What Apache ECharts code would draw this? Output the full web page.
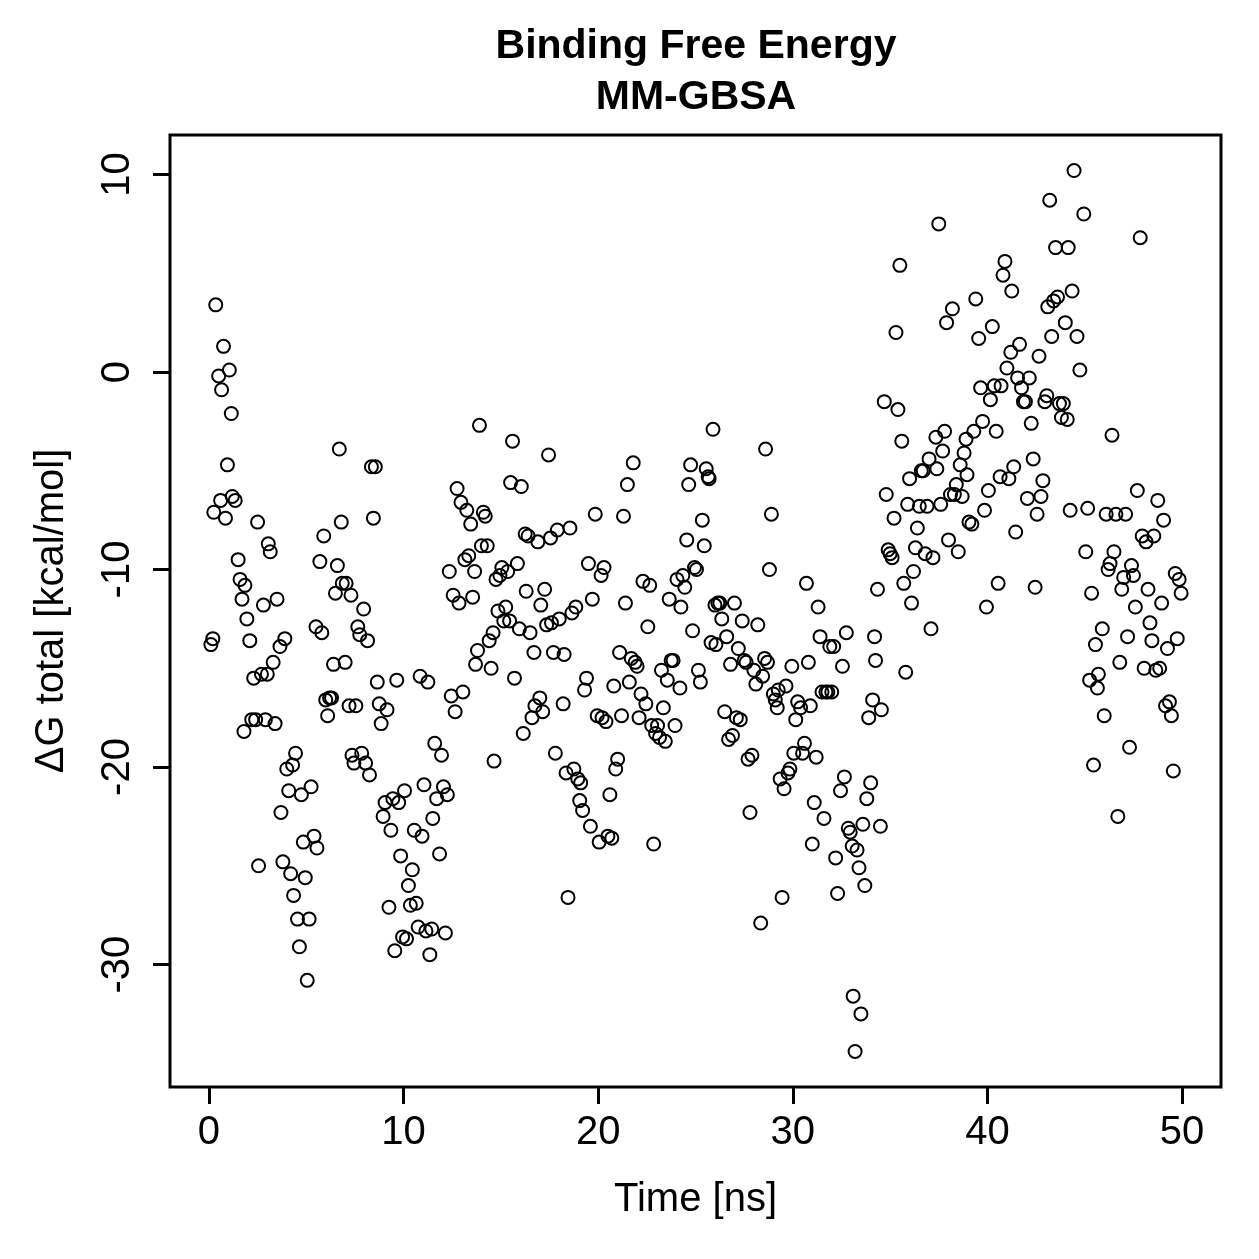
<!DOCTYPE html>
<html>
<head>
<meta charset="utf-8">
<script src="https://cdn.jsdelivr.net/npm/echarts@6/dist/echarts.min.js"></script>
<style>
  html, body { margin: 0; padding: 0; background: #fff; }
  #chart_div { width: 1259px; height: 1259px; }
</style>
</head>
<body>
<div id="chart_div"></div>
<script>
// time [ns]
var times = [
  0.1, 0.2, 0.25, 0.35, 0.5, 0.6, 0.65, 0.75, 0.85, 0.95, 1.05, 1.15, 1.2, 1.35, 1.5, 1.6, 1.7, 1.8, 1.85, 1.95,
  2.1, 2.2, 2.3, 2.4, 2.5, 2.55, 2.7, 2.8, 2.9, 3.0, 3.05, 3.15, 3.3, 3.4, 3.5, 3.65, 3.7, 3.8, 3.9, 4.0,
  4.1, 4.2, 4.3, 4.35, 4.45, 4.55, 4.65, 4.75, 4.85, 4.95, 5.05, 5.15, 5.25, 5.4, 5.5, 5.55, 5.7, 5.8, 5.9, 6.0,
  6.1, 6.2, 6.3, 6.4, 6.5, 6.6, 6.7, 6.8, 6.85, 7.0, 7.05, 7.2, 7.3, 7.35, 7.45, 7.55, 7.65, 7.75, 7.85, 7.95,
  8.05, 8.15, 8.25, 8.35, 8.45, 8.55, 8.65, 8.75, 8.85, 8.95, 9.05, 9.15, 9.25, 9.35, 9.45, 9.55, 9.65, 9.75, 9.85, 9.95,
  10.05, 10.15, 10.25, 10.35, 10.45, 10.55, 10.65, 10.75, 10.85, 10.95, 11.05, 11.15, 11.25, 11.35, 11.45, 11.5, 11.6, 11.7, 11.85, 11.95,
  12.05, 12.15, 12.25, 12.35, 12.45, 12.55, 12.65, 12.75, 12.85, 12.95, 13.05, 13.15, 13.25, 13.35, 13.45, 13.55, 13.65, 13.7, 13.8, 13.9,
  14.0, 14.1, 14.2, 14.3, 14.4, 14.5, 14.6, 14.65, 14.75, 14.85, 14.95, 15.05, 15.15, 15.25, 15.35, 15.45, 15.5, 15.6, 15.7, 15.85,
  15.95, 16.05, 16.15, 16.25, 16.3, 16.4, 16.5, 16.6, 16.7, 16.75, 16.9, 17.0, 17.05, 17.15, 17.25, 17.35, 17.45, 17.55, 17.6, 17.7,
  17.8, 17.9, 18.0, 18.2, 18.25, 18.35, 18.45, 18.55, 18.65, 18.75, 18.85, 18.95, 19.05, 19.1, 19.2, 19.3, 19.4, 19.5, 19.6, 19.7,
  19.85, 19.95, 20.05, 20.15, 20.2, 20.3, 20.4, 20.5, 20.6, 20.7, 20.8, 20.9, 21.0, 21.1, 21.2, 21.3, 21.4, 21.5, 21.6, 21.7,
  21.8, 21.9, 22.0, 22.1, 22.2, 22.3, 22.45, 22.55, 22.65, 22.75, 22.85, 22.95, 23.05, 23.15, 23.25, 23.35, 23.45, 23.55, 23.65, 23.75,
  23.85, 23.95, 24.05, 24.2, 24.25, 24.35, 24.45, 24.55, 24.65, 24.75, 24.85, 24.95, 25.05, 25.15, 25.25, 25.35, 25.45, 25.55, 25.65, 25.7,
  25.8, 25.9, 26.0, 26.05, 26.15, 26.25, 26.35, 26.5, 26.6, 26.7, 26.8, 26.9, 27.0, 27.1, 27.2, 27.3, 27.4, 27.5, 27.6, 27.7,
  27.8, 27.9, 28.0, 28.1, 28.2, 28.35, 28.45, 28.55, 28.6, 28.7, 28.8, 28.9, 29.0, 29.1, 29.2, 29.25, 29.35, 29.45, 29.55, 29.65,
  29.75, 29.85, 29.95, 30.05, 30.15, 30.25, 30.4, 30.5, 30.6, 30.7, 30.8, 30.9, 31.0, 31.1, 31.2, 31.3, 31.4, 31.5, 31.6, 31.7,
  31.8, 31.9, 32.0, 32.1, 32.2, 32.3, 32.45, 32.55, 32.65, 32.75, 32.85, 32.95, 33.05, 33.1, 33.2, 33.3, 33.4, 33.5, 33.6, 33.7,
  33.8, 33.9, 34.0, 34.1, 34.2, 34.25, 34.35, 34.5, 34.55, 34.7, 34.8, 34.9, 35.0, 35.1, 35.2, 35.3, 35.4, 35.5, 35.6, 35.7,
  35.8, 35.9, 36.0, 36.1, 36.2, 36.3, 36.4, 36.5, 36.6, 36.7, 36.8, 36.9, 37.0, 37.1, 37.2, 37.35, 37.4, 37.5, 37.6, 37.7,
  37.8, 37.9, 38.0, 38.1, 38.2, 38.3, 38.4, 38.5, 38.6, 38.7, 38.8, 38.9, 38.95, 39.05, 39.2, 39.3, 39.4, 39.55, 39.65, 39.75,
  39.85, 39.95, 40.05, 40.15, 40.25, 40.35, 40.45, 40.55, 40.65, 40.7, 40.8, 40.9, 41.0, 41.1, 41.2, 41.25, 41.35, 41.45, 41.55, 41.65,
  41.75, 41.85, 41.95, 42.05, 42.15, 42.25, 42.35, 42.45, 42.55, 42.65, 42.75, 42.85, 42.95, 43.05, 43.1, 43.2, 43.3, 43.4, 43.5, 43.6,
  43.7, 43.8, 43.9, 44.0, 44.1, 44.15, 44.25, 44.35, 44.45, 44.6, 44.75, 44.95, 45.05, 45.15, 45.25, 45.35, 45.45, 45.55, 45.65, 45.7,
  45.9, 46.0, 46.1, 46.2, 46.3, 46.4, 46.5, 46.6, 46.7, 46.8, 46.9, 47.0, 47.1, 47.2, 47.3, 47.4, 47.5, 47.6, 47.7, 47.85,
  47.95, 48.05, 48.15, 48.25, 48.35, 48.45, 48.55, 48.65, 48.75, 48.85, 48.95, 49.05, 49.15, 49.25, 49.35, 49.45, 49.55, 49.65, 49.75, 49.85,
  49.95
];

// dG total [kcal/mol], same order as times
var dG = [
  -13.8, -13.5, -7.1, 3.4, -0.2, -6.5, -0.9, 1.3, -7.4, -4.7, 0.1, -2.1, -6.3, -6.5, -9.5, -10.5, -11.5, -18.2, -10.8, -12.5,
  -13.6, -17.6, -15.5, -17.6, -7.6, -25.0, -15.3, -11.8, -17.6, -15.3, -8.7, -9.1, -14.7, -17.8, -11.5, -13.9, -22.3, -24.8, -13.5, -20.1,
  -21.2, -25.4, -19.9, -26.5, -19.3, -27.7, -29.1, -21.4, -23.8, -25.6, -30.8, -27.7, -21.0, -23.5, -12.9, -24.1, -9.6, -13.2, -8.3, -16.6,
  -17.4, -16.5, -16.5, -14.8, -11.2, -9.8, -3.9, -7.6, -10.7, -14.7, -10.7, -16.9, -11.3, -19.4, -19.8, -16.9, -12.9, -13.3, -19.3, -12.0,
  -19.8, -13.6, -20.4, -4.8, -7.4, -4.8, -15.7, -16.8, -17.8, -22.5, -21.8, -17.1, -27.1, -23.2, -21.6, -29.3, -15.6, -21.8, -24.5, -28.6,
  -21.2, -28.7, -26.0, -27.0, -25.2, -23.2, -26.9, -28.1, -15.4, -23.5, -20.9, -28.3, -15.7, -29.5, -28.2, -22.6, -18.8, -21.6, -24.4, -19.4,
  -21.0, -28.4, -21.4, -10.1, -16.4, -11.3, -17.2, -5.9, -11.7, -6.6, -16.2, -9.5, -7.0, -9.3, -7.7, -11.4, -10.1, -14.8, -14.1, -2.7,
  -8.8, -7.1, -7.3, -8.8, -13.6, -15.0, -13.2, -19.7, -10.5, -12.1, -10.3, -9.9, -12.6, -11.9, -10.1, -12.6, -5.6, -3.5, -15.5, -9.7,
  -13.0, -5.8, -18.3, -8.2, -11.1, -8.3, -13.2, -17.5, -14.2, -16.9, -8.6, -16.5, -11.8, -17.2, -11.0, -12.8, -4.2, -8.4, -12.7, -14.2,
  -19.3, -8.0, -12.5, -16.8, -14.3, -20.3, -26.6, -7.9, -12.2, -20.1, -11.9, -20.6, -21.7, -20.8, -22.2, -16.1, -15.5, -9.7, -23.0, -11.5,
  -7.2, -17.4, -23.8, -10.3, -17.5, -9.9, -17.7, -23.5, -21.4, -23.6, -15.9, -20.1, -19.6, -14.2, -17.4, -7.3, -11.7, -5.7, -15.7, -14.5,
  -4.6, -14.7, -14.9, -17.5, -16.3, -10.6, -16.8, -12.9, -10.8, -17.9, -23.9, -18.3, -17.9, -18.5, -15.1, -17.0, -18.7, -15.6, -11.5, -14.6,
  -14.6, -17.9, -10.5, -16.0, -11.9, -10.3, -10.9, -8.5, -5.7, -4.7, -13.1, -9.9, -10.0, -15.1, -15.7, -7.5, -8.8, -4.9, -5.3, -5.4,
  -13.7, -2.9, -11.8, -13.8, -11.7, -11.7, -12.5, -17.2, -13.4, -18.6, -14.8, -18.4, -11.7, -17.5, -14.0, -17.6, -12.6, -14.6, -14.7, -19.6,
  -22.3, -19.4, -15.1, -15.8, -12.8, -27.9, -15.4, -14.5, -3.9, -14.7, -10.0, -7.2, -16.3, -16.6, -17.0, -16.1, -20.6, -26.6, -21.1, -15.9,
  -20.3, -20.1, -14.9, -19.3, -17.6, -16.7, -17.0, -19.3, -18.8, -10.7, -14.7, -16.9, -23.9, -21.8, -19.5, -11.9, -13.4, -16.2, -22.6, -16.2,
  -16.2, -13.9, -16.2, -13.9, -24.6, -26.4, -21.2, -14.9, -20.5, -13.2, -23.1, -23.3, -24.0, -31.6, -34.4, -24.2, -25.1, -32.5, -22.9, -26.0,
  -21.6, -17.5, -20.8, -16.6, -13.4, -14.6, -11.0, -23.0, -17.1, -1.5, -6.2, -9.0, -9.2, -9.4, -7.4, 2.0, -1.9, 5.4, -3.5, -10.7,
  -15.2, -6.7, -5.4, -11.7, -10.1, -8.9, -7.9, -6.8, -5.0, -5.0, -9.2, -6.8, -4.4, -13.0, -9.4, -3.3, -4.9, 7.5, -6.7, -4.0,
  -3.0, 2.5, -8.5, -6.2, 3.2, -6.2, -5.7, -9.1, -4.7, -6.3, -4.1, -3.4, -5.2, -7.6, -7.7, -3.0, 3.7, 1.7, -0.8, -2.5,
  -7.0, -11.9, -6.0, -1.4, 2.3, -0.7, -3.0, -10.7, -5.3, -0.7, 4.9, 5.6, 0.2, -5.4, 1.0, 4.1, -4.8, -8.1, -0.3, 1.4,
  -0.8, -1.5, -1.5, -6.4, -0.3, -2.6, -4.4, -10.9, -7.2, 0.8, -6.3, -5.5, -1.5, -1.2, 3.3, 8.7, 1.8, 3.6, 6.3, 3.8,
  -1.6, -2.3, -1.6, 2.5, -2.4, 6.3, -7.0, 4.1, 10.2, 1.8, 0.1, 8.0, -9.1, -6.9, -15.6, -11.2, -19.9, -13.8, -16.0, -15.3,
  -13.0, -17.4, -7.2, -10.0, -9.7, -3.2, -9.1, -7.2, -22.5, -14.7, -11.0, -10.4, -7.2, -13.4, -19.0, -9.8, -10.3, -11.9, -6.0, 6.8,
  -8.3, -15.0, -8.6, -11.0, -12.7, -13.6, -8.3, -15.1, -6.5, -15.0, -11.7, -7.5, -16.9, -14.0, -16.7, -17.4, -20.2, -10.2, -13.5, -10.5,
  -11.2
];

var xTicks = [0, 10, 20, 30, 40, 50];
var yTicks = [-30, -20, -10, 0, 10];

var chartTitle = 'Binding Free Energy\nMM-GBSA';
var xName = 'Time [ns]';
var yName = 'ΔG total [kcal/mol]';

var points = [];
for (var i = 0; i < times.length; i++) {
  points.push([times[i], dG[i]]);
}

var fontFam = '"Liberation Sans", Arial, sans-serif';

var myChart = echarts.init(document.getElementById('chart_div'), null, { renderer: 'canvas' });
myChart.setOption({
  animation: false,
  backgroundColor: '#fff',
  title: {
    text: chartTitle,
    left: 696,
    top: 21,
    textAlign: 'center',
    padding: 0,
    textStyle: {
      fontFamily: fontFam,
      fontWeight: 'bold',
      fontSize: 41,
      lineHeight: 51,
      color: '#000'
    }
  },
  grid: {
    left: 170,
    right: 38,
    top: 135,
    bottom: 172,
    show: true,
    borderColor: '#000',
    borderWidth: 3,
    backgroundColor: 'transparent'
  },
  xAxis: {
    type: 'value',
    min: -2,
    max: 52,
    name: xName,
    nameLocation: 'middle',
    nameGap: 93,
    nameTextStyle: { fontFamily: fontFam, fontSize: 40, color: '#000' },
    axisLine: { show: false, onZero: false },
    splitLine: { show: false },
    axisTick: {
      show: true,
      length: 17,
      customValues: xTicks,
      lineStyle: { color: '#000', width: 3 }
    },
    axisLabel: {
      customValues: xTicks,
      margin: 26,
      fontFamily: fontFam,
      fontSize: 40,
      color: '#000'
    }
  },
  yAxis: {
    type: 'value',
    min: -36.2,
    max: 12.0,
    name: yName,
    nameLocation: 'middle',
    nameGap: 98,
    nameTextStyle: { fontFamily: fontFam, fontSize: 40, color: '#000' },
    axisLine: { show: false, onZero: false },
    splitLine: { show: false },
    axisTick: {
      show: true,
      length: 17,
      customValues: yTicks,
      lineStyle: { color: '#000', width: 3 }
    },
    axisLabel: {
      customValues: yTicks,
      rotate: 90,
      margin: 32,
      fontFamily: fontFam,
      fontSize: 40,
      color: '#000'
    }
  },
  series: [{
    type: 'scatter',
    data: points,
    symbol: 'circle',
    symbolSize: 13,
    itemStyle: {
      color: 'rgba(0,0,0,0)',
      borderColor: '#000',
      borderWidth: 2,
      opacity: 1
    }
  }]
});
</script>
</body>
</html>
